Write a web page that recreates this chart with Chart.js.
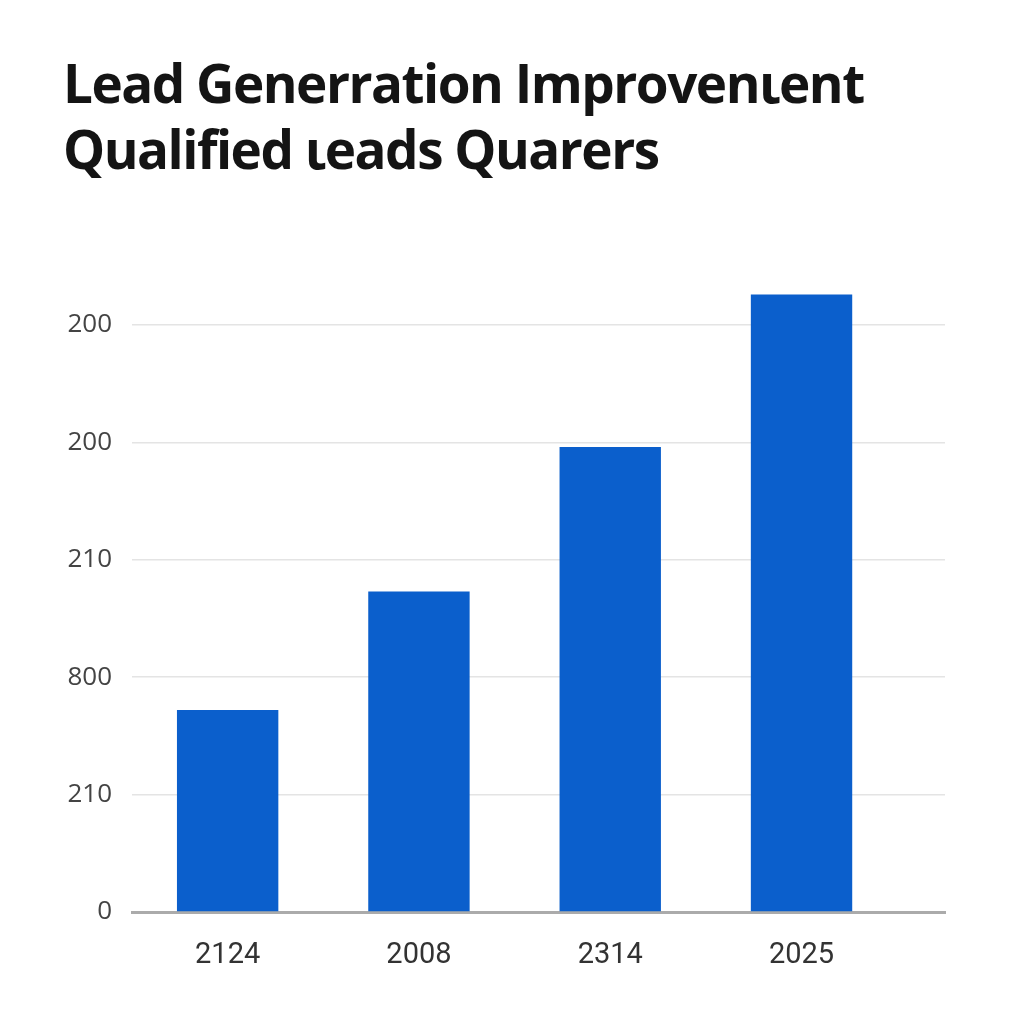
<!DOCTYPE html>
<html>
<head>
<meta charset="utf-8">
<script src="https://cdn.jsdelivr.net/npm/chart.js@4/dist/chart.umd.min.js"></script>
<style>
  html, body { margin: 0; padding: 0; background: #fff; }
  #wrap { position: relative; width: 1024px; height: 1024px; }
  #title {
    position: absolute; left: 63px; top: 50px;
    font-family: "Open Sans", sans-serif; font-weight: 700;
    font-size: 53px; line-height: 66px; color: #141414;
    letter-spacing: -1.5px; white-space: nowrap;
  }
  canvas { position: absolute; left: 0; top: 0; }
</style>
</head>
<body>
<div id="wrap">
  <div id="title">Lead Generration Improvenιent<br>Qualified ιeads Quarers</div>
  <canvas id="chart" width="1024" height="1024"></canvas>
</div>
<script>
"use strict";

// ── Data ─────────────────────────────────────────────────────────────────────

const categories = ["2124", "2008", "2314", "2025"];
// bar heights in gridline steps (0 = baseline, 1 = next gridline, ...)
const leads = [1.72, 2.73, 3.96, 5.26];
// y tick labels as printed, bottom to top
const yTickLabels = ["0", "210", "800", "210", "200", "200"];

// ── Chart ────────────────────────────────────────────────────────────────────

const BAR_BLUE = "#0b5fcc";

new Chart(document.getElementById("chart").getContext("2d"), {
  type: "bar",
  data: {
    datasets: [{
      data: leads.map((v, i) => ({ x: i, y: v })),
      backgroundColor: BAR_BLUE,
      borderWidth: 0,
      barPercentage: 0.53,
      categoryPercentage: 1,
    }],
  },
  options: {
    responsive: false,
    animation: false,
    layout: { padding: { top: 278, right: 79, left: 0, bottom: 0 } },
    plugins: {
      legend: { display: false },
      tooltip: { enabled: false },
    },
    scales: {
      x: {
        type: "linear",
        offset: false,
        min: -0.5,
        max: 3.75,
        afterBuildTicks: (s) => { s.ticks = categories.map((_, i) => ({ value: i })); },
        afterFit: (s) => { s.height = 112; },
        ticks: {
          padding: 18,
          color: "#333",
          font: { family: "Roboto", size: 29 },
          callback: (v) => categories[v] ?? "",
        },
        grid: { display: false, offset: false },
        border: { display: true, color: "#ababab", width: 3 },
      },
      y: {
        min: 0,
        max: 5.4,
        afterBuildTicks: (s) => { s.ticks = yTickLabels.map((_, i) => ({ value: i })); },
        afterFit: (s) => { s.width = 132; },
        ticks: {
          padding: 20,
          color: "#444",
          font: { family: "Open Sans", size: 26 },
          callback: (v) => yTickLabels[v] ?? "",
        },
        grid: { color: "#e4e4e4", lineWidth: 1.5, drawTicks: false },
        border: { display: false },
      },
    },
  },
});
</script>
</body>
</html>
